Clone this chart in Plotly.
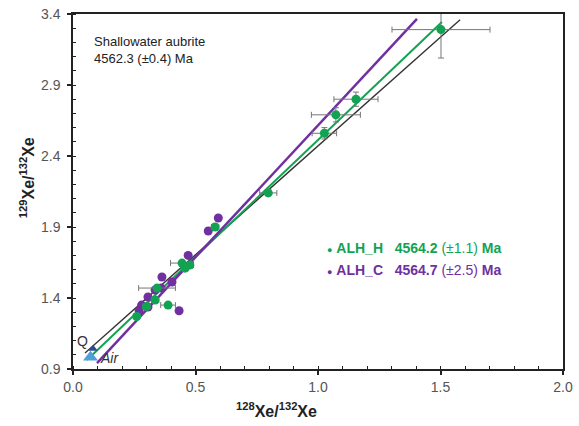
import plotly.graph_objects as go

# ALH_H (green) data: 128Xe/132Xe, 129Xe/132Xe and errors
h_x = [0.26, 0.30, 0.335, 0.343, 0.388, 0.445, 0.457, 0.477, 0.58, 0.797, 1.026, 1.073, 1.155, 1.502]
h_y = [1.27, 1.34, 1.386, 1.47, 1.35, 1.646, 1.61, 1.632, 1.90, 2.14, 2.56, 2.69, 2.80, 3.29]
h_xerr = [0.01, 0.015, 0.015, 0.075, 0.03, 0.047, 0.015, 0.015, 0.015, 0.035, 0.05, 0.10, 0.09, 0.20]
h_yerr = [0.01, 0.01, 0.01, 0.015, 0.015, 0.015, 0.01, 0.01, 0.02, 0.02, 0.04, 0.05, 0.05, 0.20]

# ALH_C (purple) data
c_x = [0.27, 0.28, 0.306, 0.306, 0.335, 0.363, 0.404, 0.433, 0.47, 0.552, 0.593, 0.36]
c_y = [1.31, 1.35, 1.337, 1.407, 1.456, 1.548, 1.513, 1.31, 1.70, 1.872, 1.963, 1.47]

# Isochron line endpoints
sw_x = [0.049, 1.58]
sw_y = [1.013, 3.36]
h_line_x = [0.057, 1.506]
h_line_y = [0.963, 3.344]
c_line_x = [0.098, 1.404]
c_line_y = [0.942, 3.365]

# Reference compositions
air_x, air_y = [0.0714], [0.983]
q_x, q_y = [0.0822], [1.042]

GREEN = "#12a352"
PURPLE = "#7030a0"
FONT = "Liberation Sans, Arial, sans-serif"

fig = go.Figure()
fig.add_trace(go.Scatter(x=sw_x, y=sw_y, mode="lines", line=dict(color="#333333", width=1.4), hoverinfo="skip"))
fig.add_trace(go.Scatter(x=h_line_x, y=h_line_y, mode="lines", line=dict(color=GREEN, width=2), hoverinfo="skip"))
fig.add_trace(go.Scatter(x=c_line_x, y=c_line_y, mode="lines", line=dict(color=PURPLE, width=2.5), hoverinfo="skip"))

fig.add_trace(go.Scatter(x=c_x, y=c_y, mode="markers",
                         marker=dict(color=PURPLE, size=9)))
fig.add_trace(go.Scatter(x=h_x, y=h_y, mode="markers",
                         marker=dict(color=GREEN, size=9),
                         error_x=dict(type="data", array=h_xerr, color="#777777", thickness=1, width=3),
                         error_y=dict(type="data", array=h_yerr, color="#777777", thickness=1, width=3)))

fig.add_trace(go.Scatter(x=air_x, y=air_y, mode="markers",
                         marker=dict(symbol="triangle-up", color="#4f9fd8", size=13)))
fig.add_trace(go.Scatter(x=q_x, y=q_y, mode="markers",
                         marker=dict(symbol="triangle-up", color="#2e4d8f", size=8)))

ann = [
    dict(x=0.078, y=3.27, xref="x", yref="y", text="Shallowater aubrite<br>4562.3 (±0.4) Ma",
         showarrow=False, xanchor="left", yanchor="top", align="left",
         font=dict(size=13, color="#222222")),
    dict(x=0.037, y=1.10, xref="x", yref="y", text="Q", showarrow=False,
         font=dict(size=14, color="#333333")),
    dict(x=0.151, y=0.977, xref="x", yref="y", text="<i>Air</i>", showarrow=False,
         font=dict(size=14, color="#333333")),
    dict(x=1.03, y=1.752, xref="x", yref="y", xanchor="left",
         text="<span style='font-size:9px'>●</span> <b>ALH_H</b>   <b>4564.2</b> (±1.1) <b>Ma</b>",
         showarrow=False, font=dict(size=14, color=GREEN)),
    dict(x=1.03, y=1.597, xref="x", yref="y", xanchor="left",
         text="<span style='font-size:9px'>●</span> <b>ALH_C</b>   <b>4564.7</b> (±2.5) <b>Ma</b>",
         showarrow=False, font=dict(size=14, color=PURPLE)),
    dict(x=0.416, y=-0.15, xref="paper", yref="paper",
         text="<b><sup>128</sup>Xe/<sup>132</sup>Xe</b>", showarrow=False,
         font=dict(size=16, color="#222222")),
    dict(x=-0.118, y=0.538, xref="paper", yref="paper", textangle=-90,
         text="<b><sup>129</sup>Xe/<sup>132</sup>Xe</b>", showarrow=False,
         font=dict(size=16, color="#222222")),
]

fig.update_layout(
    width=579, height=426,
    margin=dict(l=73, r=16, t=14, b=57),
    plot_bgcolor="white", paper_bgcolor="white",
    showlegend=False,
    font=dict(family=FONT, size=13, color="#444444"),
    annotations=ann,
)
fig.update_xaxes(range=[0, 2.0], dtick=0.5, tick0=0, tickformat=".1f",
                 showgrid=False, zeroline=False, automargin=False,
                 showline=True, linecolor="#222222", linewidth=1.5, mirror=True,
                 ticks="outside", ticklen=4, tickcolor="#222222", tickwidth=1.5,
                 minor=dict(dtick=0.1, ticks="inside", ticklen=3, tickcolor="#222222", tickwidth=1),
                 tickfont=dict(size=14, color="#555555"))
fig.update_yaxes(range=[0.9, 3.4], dtick=0.5, tick0=0.9, tickformat=".1f",
                 showgrid=False, zeroline=False, automargin=False,
                 showline=True, linecolor="#222222", linewidth=1.5, mirror=True,
                 ticks="outside", ticklen=4, tickcolor="#222222", tickwidth=1.5,
                 ticklabelstandoff=4,
                 minor=dict(dtick=0.1, ticks="inside", ticklen=3, tickcolor="#222222", tickwidth=1),
                 tickfont=dict(size=14, color="#555555"))

fig.write_html("out.html", config={"displayModeBar": False},
               post_script="document.body.style.margin='0';")
